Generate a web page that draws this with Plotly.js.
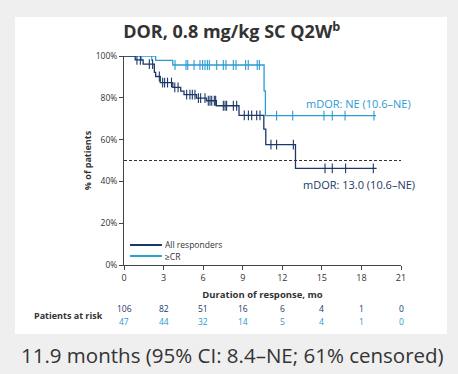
<!DOCTYPE html>
<html>
<head>
<meta charset="utf-8">
<script src="https://cdn.plot.ly/plotly-3.0.1.min.js"></script>
<style>
  html, body { margin: 0; padding: 0; background: #efefef; }
  #chart { width: 458px; height: 374px; }
</style>
</head>
<body>
<div id="chart"></div>
<script>
// ---- Data ----
const riskMonths = [0, 3, 6, 9, 12, 15, 18, 21];
const riskAll = [106, 82, 51, 16, 6, 4, 1, 0];
const riskCR = [47, 44, 32, 14, 5, 4, 1, 0];

// Kaplan-Meier step points: All responders
const allTimes = [0, 0.85, 1.45, 2.3, 2.4, 2.75, 3.7, 4.3, 4.55, 5.5, 6.25, 7.0, 8.72, 10.6, 10.75, 13.0, 19.15];
const allSurv  = [100, 98.1, 96.1, 92.2, 90.2, 87.3, 85.0, 83.2, 81.5, 79.8, 78.6, 76.2, 71.6, 65.0, 57.6, 46.2, 46.2];
const allCensor = [0.98, 1.24, 1.92, 2.17, 2.68, 2.93, 3.08, 3.3, 3.6, 3.85, 4.1, 4.75, 5.0, 5.18, 5.38,
  5.64, 5.81, 6.14, 6.39, 6.52, 6.65, 6.85, 6.95, 7.53, 7.66, 7.78, 8.29, 8.54, 9.12, 9.43, 9.68,
  10.06, 10.31, 11.14, 11.57, 12.84, 15.24, 15.79, 16.8, 18.9];

// Kaplan-Meier step points: >=CR
const crTimes = [0, 2.4, 3.7, 10.62, 10.72, 19.1];
const crSurv  = [100, 97.9, 95.7, 83.3, 71.5, 71.5];
const crCensor = [1.34, 2.1, 3.87, 4.70, 4.83, 5.31, 5.76, 5.96, 6.14, 6.32, 6.47, 7.03, 7.53, 7.73,
  8.29, 8.49, 9.22, 9.42, 10.1, 10.26, 11.57, 12.79, 15.16, 15.79, 16.76, 18.95];

const medianLine = 50;
const xTicks = [0, 3, 6, 9, 12, 15, 18, 21];
const yTicks = [0, 20, 40, 60, 80, 100];

// ---- Styles ----
const DARK = '#1b3868';
const LIGHT = '#2a9bd3';
const TEXT = '#333333';
const FONT = 'Open Sans, Noto Sans, sans-serif';

function stepAt(times, surv, t) {
  let v = surv[0];
  for (let i = 0; i < times.length; i++) { if (times[i] <= t) v = surv[i]; }
  return v;
}

const traces = [
  { x: crTimes, y: crSurv, mode: 'lines', line: { shape: 'hv', color: LIGHT, width: 1.3 },
    name: '≥CR', showlegend: false, hoverinfo: 'skip' },
  { x: crCensor, y: crCensor.map(t => stepAt(crTimes, crSurv, t)), mode: 'markers',
    marker: { symbol: 'line-ns-open', size: 7, color: LIGHT, line: { color: LIGHT, width: 1.1 } },
    showlegend: false, hoverinfo: 'skip' },
  { x: allTimes, y: allSurv, mode: 'lines', line: { shape: 'hv', color: DARK, width: 1.3 },
    name: 'All responders', showlegend: false, hoverinfo: 'skip' },
  { x: allCensor, y: allCensor.map(t => stepAt(allTimes, allSurv, t)), mode: 'markers',
    marker: { symbol: 'line-ns-open', size: 7, color: DARK, line: { color: DARK, width: 1.1 } },
    showlegend: false, hoverinfo: 'skip' }
];

// plot area: x 124..401 px, y 56..265 px
const annotations = [
  { xref: 'x', yref: 'y', x: 13.65, y: 77.4, text: 'mDOR: NE (10.6–NE)', showarrow: false,
    xanchor: 'left', yanchor: 'middle', font: { family: FONT, size: 11, color: LIGHT } },
  { xref: 'x', yref: 'y', x: 13.4, y: 38.3, text: 'mDOR: 13.0 (10.6–NE)', showarrow: false,
    xanchor: 'left', yanchor: 'middle', font: { family: FONT, size: 11, color: DARK } },
  // legend text
  { xref: 'paper', yref: 'paper', x: 0.141, y: 0.0957, text: 'All responders', showarrow: false,
    xanchor: 'left', yanchor: 'middle', font: { family: FONT, size: 8.5, color: TEXT } },
  { xref: 'paper', yref: 'paper', x: 0.141, y: 0.043, text: '≥CR', showarrow: false,
    xanchor: 'left', yanchor: 'middle', font: { family: FONT, size: 8.5, color: TEXT } },
  // patients at risk label
  { xref: 'paper', yref: 'paper', x: -0.07, y: -0.24, text: '<b>Patients at risk</b>', showarrow: false,
    xanchor: 'right', yanchor: 'middle', font: { family: FONT, size: 9, color: TEXT } },
  // caption
  { xref: 'paper', yref: 'paper', x: 0.39, y: -0.4306, text: '11.9 months (95% CI: 8.4–NE; 61% censored)',
    showarrow: false, xanchor: 'center', yanchor: 'middle', font: { family: FONT, size: 20.5, color: TEXT } }
];
riskMonths.forEach((m, i) => {
  annotations.push({ xref: 'x', yref: 'paper', x: m, y: -0.2105, text: String(riskAll[i]), showarrow: false,
    xanchor: 'center', yanchor: 'middle', font: { family: FONT, size: 8.5, color: DARK } });
  annotations.push({ xref: 'x', yref: 'paper', x: m, y: -0.268, text: String(riskCR[i]), showarrow: false,
    xanchor: 'center', yanchor: 'middle', font: { family: FONT, size: 8.5, color: LIGHT } });
});

const shapes = [
  // white panel
  { type: 'rect', xref: 'paper', yref: 'paper', x0: -0.3935, x1: 1.166, y0: -0.330, y1: 1.1866,
    fillcolor: '#ffffff', line: { width: 0 }, layer: 'below' },
  // median dashed line
  { type: 'line', xref: 'paper', yref: 'y', x0: 0, x1: 1, y0: medianLine, y1: medianLine,
    line: { color: '#333333', width: 1, dash: '3px,2px' } },
  // legend lines
  { type: 'line', xref: 'paper', yref: 'paper', x0: 0.0217, x1: 0.137, y0: 0.0957, y1: 0.0957,
    line: { color: DARK, width: 2 } },
  { type: 'line', xref: 'paper', yref: 'paper', x0: 0.0217, x1: 0.137, y0: 0.043, y1: 0.043,
    line: { color: '#2aa3c9', width: 2 } }
];

const layout = {
  width: 458, height: 374,
  margin: { l: 124, r: 57, t: 56, b: 109, pad: 0 },
  paper_bgcolor: '#efefef',
  plot_bgcolor: '#ffffff',
  font: { family: FONT, color: TEXT },
  title: { text: '<b>DOR, 0.8 mg/kg SC Q2W<sup>b</sup></b>', x: 0.506, xanchor: 'center',
    y: 0.915, yanchor: 'middle', font: { family: FONT, size: 18, color: TEXT } },
  showlegend: false,
  xaxis: {
    range: [0, 21], tickvals: xTicks, ticktext: xTicks.map(String),
    showline: true, linecolor: '#444444', linewidth: 1,
    ticks: 'outside', ticklen: 4, tickcolor: '#444444', showgrid: false, zeroline: false,
    tickfont: { family: FONT, size: 9, color: TEXT },
    title: { text: '<b>Duration of response, mo</b>', font: { family: FONT, size: 9.5, color: TEXT }, standoff: 8 }
  },
  yaxis: {
    range: [0, 100], tickvals: yTicks, ticktext: yTicks.map(v => v + '%'),
    showline: true, linecolor: '#444444', linewidth: 1,
    ticks: 'outside', ticklen: 4, tickcolor: '#444444', showgrid: false, zeroline: false,
    tickfont: { family: FONT, size: 8.5, color: TEXT },
    title: { text: '<b>% of patients</b>', font: { family: FONT, size: 9, color: TEXT }, standoff: 2 }
  },
  annotations: annotations,
  shapes: shapes
};

Plotly.newPlot('chart', traces, layout, { displayModeBar: false, staticPlot: true });
</script>
</body>
</html>
